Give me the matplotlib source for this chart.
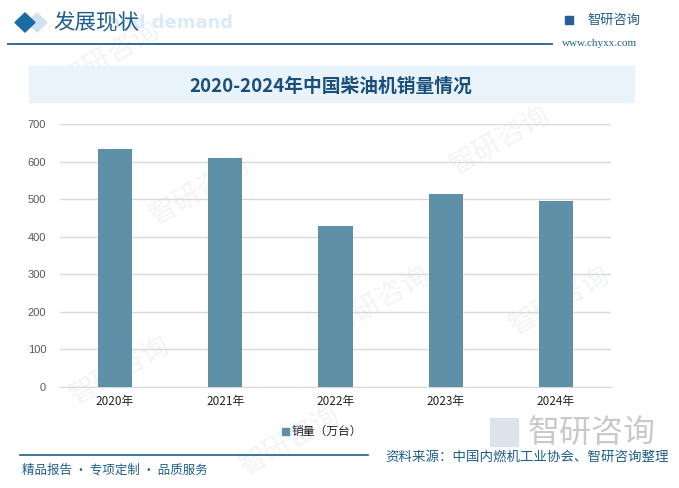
import matplotlib
matplotlib.use('Agg')
import matplotlib.pyplot as plt
from matplotlib.patches import Polygon, Rectangle
import numpy as np

plt.rcParams['font.family'] = ['Noto Sans CJK SC', 'DejaVu Sans']

# data
years = ['2020年', '2021年', '2022年', '2023年', '2024年']
sales = [635, 611, 430, 513, 495]
yticks = [0, 100, 200, 300, 400, 500, 600, 700]

W, H = 679, 488
bar_color = '#5e90a8'
dark_blue = '#1f5f8b'

fig = plt.figure(figsize=(W / 100, H / 100), dpi=100)


def fx(x):
    return x / W


def fy(y):
    return 1 - y / H


# faint watermarks (behind everything)
for (wx, wy) in [(110, 55), (200, 190), (380, 300), (120, 370), (500, 140), (560, 300), (290, 440)]:
    fig.text(fx(wx), fy(wy), '智研咨询', fontsize=20, color='#f2f4f6', rotation=30,
             ha='center', va='center', zorder=-5)

# header
fig.text(fx(233), fy(23), 'and demand', fontsize=13, fontweight='bold',
         color='#dceaf6', ha='right', va='center', family='DejaVu Sans', zorder=1)
fig.patches.append(Polygon([[fx(27), fy(22.5)], [fx(37), fy(13)], [fx(47), fy(22.5)], [fx(37), fy(32)]],
                           closed=True, transform=fig.transFigure, color='#cfe2f0', zorder=2))
fig.patches.append(Polygon([[fx(15), fy(22.5)], [fx(25), fy(13)], [fx(35), fy(22.5)], [fx(25), fy(32)]],
                           closed=True, transform=fig.transFigure, color='#1a6aa3', zorder=3))
fig.text(fx(53), fy(22), '发展现状', fontsize=15.5, color=dark_blue, ha='left', va='center', zorder=3)
fig.add_artist(plt.Line2D([fx(8), fx(552)], [fy(43.5), fy(43.5)], color=dark_blue, lw=1.3,
                          transform=fig.transFigure))

# logo top right
fig.patches.append(Rectangle((fx(565), fy(24)), 8 / W, 8 / H, transform=fig.transFigure,
                             color='#2b5d9a', zorder=3))
fig.text(fx(587), fy(20.5), '智研咨询', fontsize=9.5, color=dark_blue, ha='left', va='center')
fig.text(fx(562), fy(43), 'www.chyxx.com', fontsize=8, color=dark_blue, ha='left', va='center',
         family='Liberation Serif')

# title band
fig.patches.append(Rectangle((fx(29), fy(102)), 605 / W, 36 / H, transform=fig.transFigure,
                             color='#e8f3fb', zorder=1))
fig.text(fx(331), fy(86), '2020-2024年中国柴油机销量情况', fontsize=13.5, fontweight='bold',
         color='#1a4f7a', ha='center', va='center', zorder=2)

# chart
ax = fig.add_axes([fx(60), fy(387), (611 - 60) / W, (387 - 124.3) / H])
ax.patch.set_alpha(0)
x = np.arange(len(years))
ax.bar(x, sales, width=0.31, color=bar_color, zorder=3)
ax.set_xlim(-0.5, len(years) - 0.5)
ax.set_ylim(0, 700)
ax.set_yticks(yticks)
ax.set_yticklabels([str(v) for v in yticks], fontsize=8, color='#595959', family='Liberation Sans')
ax.set_xticks(x)
ax.set_xticklabels(years, fontsize=8.5, color='#222222')
ax.tick_params(axis='both', length=0)
ax.tick_params(axis='y', pad=10)
ax.tick_params(axis='x', pad=6)
ax.yaxis.grid(True, color='#d9d9d9', lw=1, zorder=0)
for s in ['top', 'right', 'left']:
    ax.spines[s].set_visible(False)
ax.spines['bottom'].set_color('#d9d9d9')

# legend
fig.patches.append(Rectangle((fx(282), fy(434.5)), 7 / W, 7 / H, transform=fig.transFigure,
                             color=bar_color, zorder=3))
fig.text(fx(292), fy(431), '销量（万台）', fontsize=8.5, color='#222222', ha='left', va='center')

# bottom watermark logo
fig.patches.append(Rectangle((fx(490), fy(446)), 28 / W, 28 / H, transform=fig.transFigure,
                             color='#dde3ea', zorder=1))
fig.text(fx(528), fy(433), '智研咨询', fontsize=23, color='#c9c9c9', ha='left', va='center', zorder=1)

# footer
fig.add_artist(plt.Line2D([fx(20), fx(368)], [fy(455), fy(455)], color=dark_blue, lw=1.2,
                          transform=fig.transFigure))
fig.text(fx(22), fy(470), '精品报告 · 专项定制 · 品质服务', fontsize=9, color=dark_blue,
         ha='left', va='center')
fig.text(fx(385), fy(457), '资料来源：中国内燃机工业协会、智研咨询整理', fontsize=9.7, color=dark_blue,
         ha='left', va='center', zorder=3)

fig.savefig('out.png', dpi=100)
